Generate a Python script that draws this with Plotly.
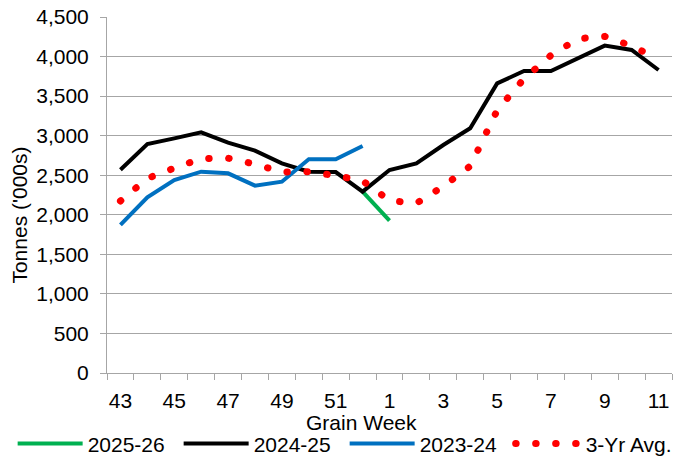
import plotly.graph_objects as go

weeks = ["43", "44", "45", "46", "47", "48", "49", "50", "51", "52",
         "1", "2", "3", "4", "5", "6", "7", "8", "9", "10", "11"]
tick_labels = [w if i % 2 == 0 else "" for i, w in enumerate(weeks)]

s2025_26 = [None] * 9 + [2292, 1925] + [None] * 10
s2024_25 = [2570, 2895, 2966, 3042, 2911, 2810, 2650, 2545, 2540, 2292,
            2566, 2650, 2882, 3093, 3661, 3817, 3817, 3977, 4138, 4083, 3830]
s2023_24 = [1871, 2221, 2440, 2545, 2524, 2368, 2418, 2701, 2701, 2869] + [None] * 11
avg3yr = [2174, 2460, 2590, 2710, 2715, 2640, 2540, 2545, 2495, 2430,
          2180, 2145, 2360, 2615, 3320, 3720, 4015, 4225, 4255, 4134, 3966]

FONT = "Liberation Sans, Arial, sans-serif"
GRID = "#A6A6A6"
FS = 21

fig = go.Figure()
fig.add_trace(go.Scatter(x=weeks, y=s2025_26, name="2025-26", mode="lines",
                         line=dict(color="#00B050", width=4), connectgaps=False))
fig.add_trace(go.Scatter(x=weeks, y=s2024_25, name="2024-25", mode="lines",
                         line=dict(color="#000000", width=4)))
fig.add_trace(go.Scatter(x=weeks, y=s2023_24, name="2023-24", mode="lines",
                         line=dict(color="#0070C0", width=4)))
fig.add_trace(go.Scatter(x=weeks, y=avg3yr, name="3-Yr Avg.", mode="lines",
                         line=dict(color="#FF0000", width=7, dash="0.5px,19.5px")))

fig.update_layout(
    width=680, height=457,
    margin=dict(l=107, r=8, t=17, b=84, autoexpand=False),
    paper_bgcolor="white", plot_bgcolor="white",
    font=dict(family=FONT, size=FS, color="black"),
    showlegend=True,
    legend=dict(orientation="h", x=-0.167, xanchor="left", y=-0.1416, yanchor="top",
                font=dict(size=FS), itemwidth=65, entrywidth=86, tracegroupgap=0,
                bgcolor="rgba(0,0,0,0)"),
    xaxis=dict(type="category", categoryorder="array", categoryarray=weeks,
               range=[-0.5, len(weeks) - 0.5],
               tickvals=weeks, ticktext=tick_labels, tickson="boundaries",
               tickangle=0, ticks="outside", ticklen=6, tickcolor=GRID,
               ticklabelstandoff=9,
               showline=True, linecolor=GRID, linewidth=1, showgrid=False,
               tickfont=dict(size=FS), automargin=False),
    yaxis=dict(range=[0, 4500], dtick=500, tickformat=",",
               ticks="outside", ticklen=6, tickcolor=GRID,
               ticklabelstandoff=7,
               showline=True, linecolor=GRID, linewidth=1,
               showgrid=True, gridcolor=GRID, gridwidth=1, zeroline=False,
               tickfont=dict(size=FS), automargin=False),
    annotations=[
        dict(text="Tonnes ('000s)", textangle=-90, xref="paper", yref="paper",
             x=-0.154, y=0.445, xanchor="center", yanchor="middle",
             showarrow=False, font=dict(size=FS)),
        dict(text="Grain Week", xref="paper", yref="paper",
             x=(361 - 107) / 565, y=(373.3 - 423) / 356, xanchor="center",
             yanchor="middle", showarrow=False, font=dict(size=FS)),
    ],
)

post = """
document.body.style.margin = '0';
document.body.style.padding = '0';
document.documentElement.style.overflow = 'hidden';
var gd = document.getElementsByClassName('plotly-graph-div')[0];
gd.querySelectorAll('path').forEach(function(p){
  var d = p.style.strokeDasharray;
  if (d && d !== 'none' && d.indexOf('0.5px') >= 0) { p.style.strokeLinecap = 'round'; }
});
"""
fig.write_html("out.html", post_script=post, config={"displayModeBar": False})
